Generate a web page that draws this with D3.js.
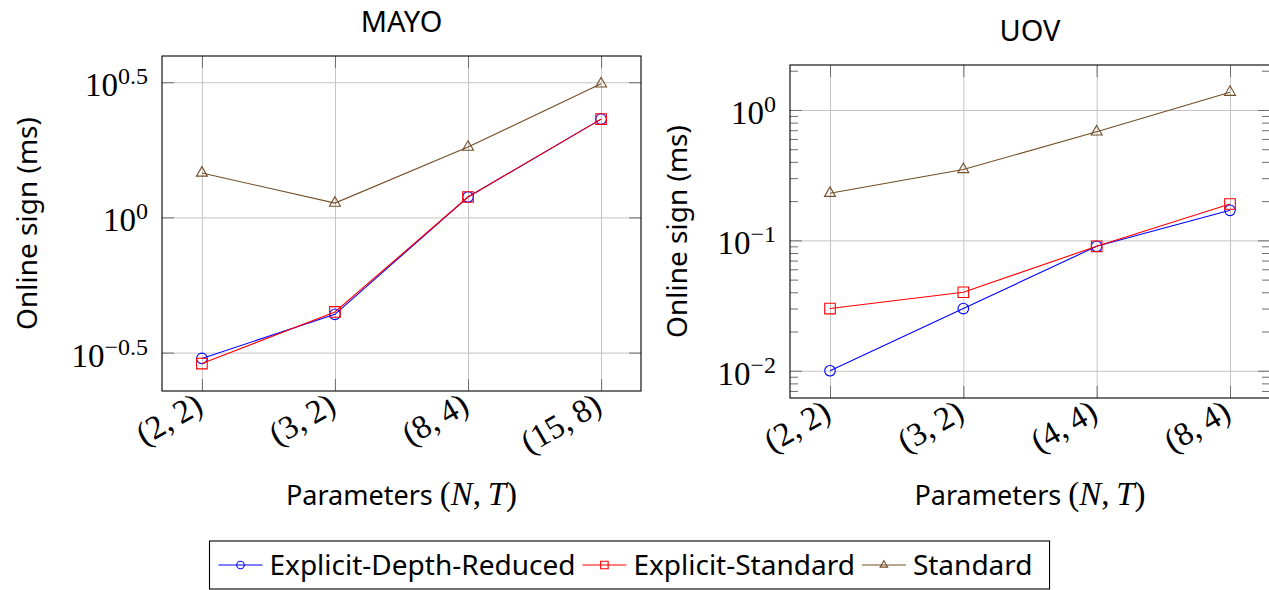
<!DOCTYPE html>
<html>
<head>
<meta charset="utf-8">
<script src="https://cdn.jsdelivr.net/npm/d3@7"></script>
<style>
  html, body { margin: 0; padding: 0; background: #fff; }
  .sans { font-family: "Noto Sans", sans-serif; }
  .serif { font-family: "Liberation Serif", serif; }
</style>
</head>
<body>
<svg id="chart" width="1269" height="590"></svg>
<script>
'use strict';

// data
const seriesNames = ["Explicit-Depth-Reduced", "Explicit-Standard", "Standard"];
const seriesColours = ["#0000ff", "#ff0000", "#734d26"];
const seriesMarks = ["circle", "square", "triangle"];

const mayoCategories = ["(2,2)", "(3,2)", "(8,4)", "(15,8)"];
const mayoDepthReduced = [0.301, 0.438, 1.19, 2.31];
const mayoExplicitStd = [0.288, 0.447, 1.19, 2.31];
const mayoStandard = [1.46, 1.13, 1.82, 3.12];
const mayoTickExp = [-0.5, 0, 0.5];

const uovCategories = ["(2,2)", "(3,2)", "(4,4)", "(8,4)"];
const uovDepthReduced = [0.01, 0.03, 0.09, 0.17];
const uovExplicitStd = [0.03, 0.04, 0.09, 0.19];
const uovStandard = [0.23, 0.35, 0.68, 1.37];
const uovTickExp = [-2, -1, 0];

const svg = d3.select("#chart");

const panels = [
  {
    title: "MAYO", cats: mayoCategories,
    series: [mayoDepthReduced, mayoExplicitStd, mayoStandard],
    tickExp: mayoTickExp, minor: false,
    left: 162, top: 56, right: 641, bottom: 391,
    yDomain: [Math.pow(10, -0.642), Math.pow(10, 0.597)],
    titleY: 32, ylabelX: 27
  },
  {
    title: "UOV", cats: uovCategories,
    series: [uovDepthReduced, uovExplicitStd, uovStandard],
    tickExp: uovTickExp, minor: true,
    left: 790, top: 65, right: 1270, bottom: 398,
    yDomain: [Math.pow(10, -2.209), Math.pow(10, 0.345)],
    titleY: 41, ylabelX: 677
  }
];

function markPath(kind, s)
{
  if (kind === "circle") return d3.symbol(d3.symbolCircle, Math.PI * s * s / 4)();
  if (kind === "square") return d3.symbol(d3.symbolSquare, s * s)();
  return d3.symbol(d3.symbolTriangle, Math.sqrt(3) / 4 * s * s)();
}

function noDomain(g) { g.select(".domain").remove(); }

function fmtExp(e) { return String(e).replace("-", "\u2212"); }

panels.forEach(function(p) {
  const w = p.right - p.left, h = p.bottom - p.top;
  const x = d3.scalePoint().domain(p.cats).range([p.left, p.right]).padding(0.3);
  const y = d3.scaleLog().domain(p.yDomain).range([p.bottom, p.top]);
  const majors = p.tickExp.map(function(e) { return Math.pow(10, e); });
  const minors = p.minor ? y.ticks().filter(function(v) {
    const l = Math.log10(v); return Math.abs(l - Math.round(l)) > 1e-6;
  }) : [];

  const g = svg.append("g");

  // grid
  g.append("g").attr("transform", `translate(0,${p.bottom})`)
    .call(d3.axisBottom(x).tickSize(-h).tickFormat(""))
    .call(noDomain)
    .selectAll("line").attr("stroke", "#c4c4c4").attr("stroke-width", 1);
  g.append("g").attr("transform", `translate(${p.left},0)`)
    .call(d3.axisLeft(y).tickValues(majors).tickSize(-w).tickFormat(""))
    .call(noDomain)
    .selectAll("line").attr("stroke", "#c4c4c4").attr("stroke-width", 1);

  // ticks, drawn inward on all sides
  const tickCol = "#6e6e6e";
  [[d3.axisLeft, p.left], [d3.axisRight, p.right]].forEach(function(a) {
    g.append("g").attr("transform", `translate(${a[1]},0)`)
      .call(a[0](y).tickValues(majors).tickSize(-12).tickFormat(""))
      .call(noDomain).selectAll("line").attr("stroke", tickCol);
    if (minors.length)
      g.append("g").attr("transform", `translate(${a[1]},0)`)
        .call(a[0](y).tickValues(minors).tickSize(-8).tickFormat(""))
        .call(noDomain).selectAll("line").attr("stroke", tickCol);
  });
  [[d3.axisBottom, p.bottom], [d3.axisTop, p.top]].forEach(function(a) {
    g.append("g").attr("transform", `translate(0,${a[1]})`)
      .call(a[0](x).tickSize(-12).tickFormat(""))
      .call(noDomain).selectAll("line").attr("stroke", tickCol);
  });

  // series
  const clip = "clip-" + p.title;
  svg.append("clipPath").attr("id", clip).append("rect")
    .attr("x", p.left).attr("y", p.top - 8).attr("width", w + 8).attr("height", h + 16);
  const line = d3.line().x(function(d, i) { return x(p.cats[i]); }).y(function(d) { return y(d); });
  p.series.forEach(function(vals, si) {
    const sg = g.append("g").attr("clip-path", `url(#${clip})`);
    sg.append("path").datum(vals).attr("d", line)
      .attr("fill", "none").attr("stroke", seriesColours[si]).attr("stroke-width", 1.1);
    sg.selectAll("path.mark").data(vals).enter().append("path")
      .attr("class", "mark")
      .attr("transform", function(d, i) { return `translate(${x(p.cats[i])},${y(d)})`; })
      .attr("d", markPath(seriesMarks[si], seriesMarks[si] === "triangle" ? 11 : 10.6))
      .attr("fill", "none").attr("stroke", seriesColours[si]).attr("stroke-width", 1.1);
  });

  // frame
  g.append("rect").attr("x", p.left).attr("y", p.top).attr("width", w).attr("height", h)
    .attr("fill", "none").attr("stroke", "#000").attr("stroke-width", 1.1);

  // y tick labels 10^e
  const yl = g.append("g").attr("class", "serif").attr("text-anchor", "end");
  p.tickExp.forEach(function(e) {
    const t = yl.append("text").attr("x", p.left - 14).attr("y", y(Math.pow(10, e)) + 14)
      .attr("font-size", 33);
    t.append("tspan").text("10");
    t.append("tspan").attr("font-size", 24).attr("dy", -12).text(fmtExp(e));
  });

  // x tick labels, rotated
  g.append("g").attr("class", "serif")
    .selectAll("text").data(p.cats).enter().append("text")
    .attr("transform", function(d) { return `translate(${x(d) - 3},${p.bottom + 10}) rotate(-30)`; })
    .attr("text-anchor", "end").attr("dy", "0.35em").attr("font-size", 33)
    .text(function(d) { return d.replace(",", ",\u2009"); });

  // title
  g.append("text").attr("class", "sans").attr("x", (p.left + p.right) / 2).attr("y", p.titleY)
    .attr("text-anchor", "middle").attr("font-size", 29).text(p.title);

  // y label
  g.append("text").attr("class", "sans")
    .attr("transform", `translate(${p.ylabelX},${(p.top + p.bottom) / 2}) rotate(-90)`)
    .attr("text-anchor", "middle").attr("dy", "0.35em").attr("font-size", 28)
    .text("Online sign (ms)");

  // x label
  const xl = g.append("text").attr("x", (p.left + p.right) / 2).attr("y", 505)
    .attr("text-anchor", "middle").attr("font-size", 27);
  xl.append("tspan").attr("class", "sans").text("Parameters ");
  xl.append("tspan").attr("class", "serif").attr("font-size", 33).text("(");
  xl.append("tspan").attr("class", "serif").attr("font-size", 33).attr("font-style", "italic").text("N");
  xl.append("tspan").attr("class", "serif").attr("font-size", 33).text(",\u2009");
  xl.append("tspan").attr("class", "serif").attr("font-size", 33).attr("font-style", "italic").text("T");
  xl.append("tspan").attr("class", "serif").attr("font-size", 33).text(")");
});

// legend
const leg = svg.append("g");
const legBox = leg.append("rect").attr("fill", "#fff").attr("stroke", "#000").attr("stroke-width", 1.1);
const legLeft = 209.5, legTop = 541, legBottom = 589, legMid = 565;
let cx = legLeft + 9;
seriesNames.forEach(function(name, si) {
  leg.append("line").attr("x1", cx).attr("x2", cx + 44).attr("y1", legMid).attr("y2", legMid)
    .attr("stroke", seriesColours[si]).attr("stroke-width", 1.1);
  leg.append("path").attr("transform", `translate(${cx + 22},${legMid})`)
    .attr("d", markPath(seriesMarks[si], 7.5))
    .attr("fill", "none").attr("stroke", seriesColours[si]).attr("stroke-width", 1.1);
  const t = leg.append("text").attr("class", "sans").attr("x", cx + 51).attr("y", legMid)
    .attr("dy", "0.35em").attr("font-size", 28).text(name);
  cx = cx + 51 + t.node().getComputedTextLength() + 7;
});
legBox.attr("x", legLeft).attr("y", legTop).attr("width", cx - legLeft + 10).attr("height", legBottom - legTop);
</script>
</body>
</html>
